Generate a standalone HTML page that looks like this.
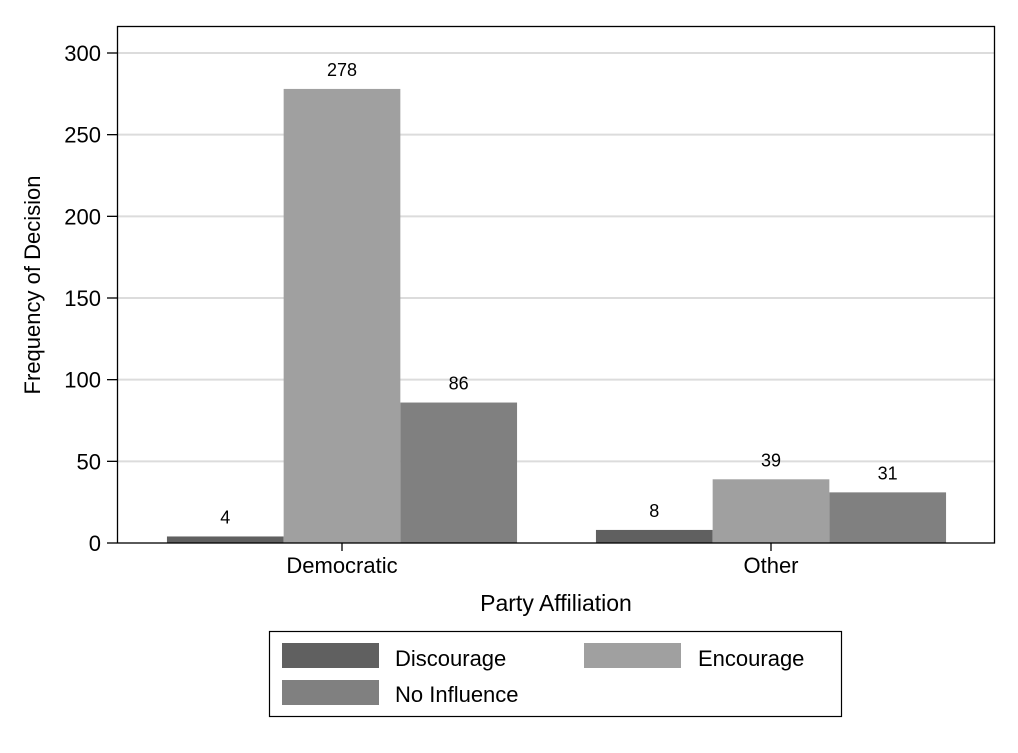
<!DOCTYPE html>
<html><head><meta charset="utf-8"><style>
body{margin:0;background:#fff;font-family:"Liberation Sans",Arial,sans-serif}
</style></head><body>
<svg id="chart" width="1018" height="748" xmlns="http://www.w3.org/2000/svg" font-family="Liberation Sans, Arial, sans-serif">
<rect width="1018" height="748" fill="#fff"/>
<g id="grid"></g>
<g id="bars"></g>
<g id="labels"></g>
<rect x="117.5" y="26.5" width="877" height="516.5" fill="none" stroke="#000" stroke-width="1.3"/>
<g id="yaxis"></g>
<g id="xaxis"></g>
<text transform="translate(40,285) rotate(-90)" text-anchor="middle" font-size="22">Frequency of Decision</text>
<text x="556" y="611" text-anchor="middle" font-size="23">Party Affiliation</text>
<g>
<rect x="269.5" y="631.5" width="572" height="85" fill="#fff" stroke="#000" stroke-width="1.2"/>
<rect x="282" y="643" width="97" height="25" fill="#606060"/>
<text x="395" y="666" font-size="22">Discourage</text>
<rect x="584" y="643" width="97" height="25" fill="#a0a0a0"/>
<text x="698" y="666" font-size="22">Encourage</text>
<rect x="282" y="680" width="97" height="25" fill="#808080"/>
<text x="395" y="702" font-size="22">No Influence</text>
</g>
</svg>
<script>
const categories = ["Democratic", "Other"];
const discourage = [4, 8];
const encourage = [278, 39];
const noInfluence = [86, 31];
const yTicks = [0, 50, 100, 150, 200, 250, 300];
const seriesNames = ["discourage", "encourage", "no-influence"];
const ns = "http://www.w3.org/2000/svg";
const svg = document.getElementById('chart');
const y0 = 543, yPerUnit = 490/300;
function y(v){ return y0 - v*yPerUnit; }
const groupCenters = [342, 771];
const barW = 116.7;
function mk(tag, attrs, parent){ const e=document.createElementNS(ns,tag); for(const k in attrs) e.setAttribute(k,attrs[k]); parent.appendChild(e); return e; }
const grid = document.getElementById('grid'), ya = document.getElementById('yaxis');
yTicks.forEach(t=>{
  if(t>0){ const g = mk('line',{x1:118,x2:994,y1:y(t),y2:y(t),stroke:'#dcdcdc','stroke-width':2},grid);
      }
  const tk = mk('line',{x1:107,x2:117,y1:y(t),y2:y(t),stroke:'#000','stroke-width':1.3},ya);
   
  const tl = mk('text',{x:101,y:y(t)+8,'text-anchor':'end','font-size':22},ya);
   
  tl.textContent = t;
});
const series = [discourage, encourage, noInfluence];
const colors = ['#606060','#a0a0a0','#808080'];
const bars = document.getElementById('bars'), labels = document.getElementById('labels');
categories.forEach((c,i)=>{
  series.forEach((s,j)=>{
    const x = groupCenters[i] + (j-1.5)*barW;
    const r = mk('rect',{x:x,y:y(s[i]),width:barW,height:y0-y(s[i]),fill:colors[j]},bars);
    
    
    const l = mk('text',{x:x+barW/2,y:y(s[i])-13,'text-anchor':'middle','font-size':18},labels);
    
    
    l.textContent = s[i];
  });
  const xa = document.getElementById('xaxis');
  const tk = mk('line',{x1:groupCenters[i],x2:groupCenters[i],y1:543,y2:551,stroke:'#000','stroke-width':1.3},xa);
  
  
  const tl = mk('text',{x:groupCenters[i],y:573,'text-anchor':'middle','font-size':22},xa);
  
  
  tl.textContent = c;
});
</script>
</body></html>
